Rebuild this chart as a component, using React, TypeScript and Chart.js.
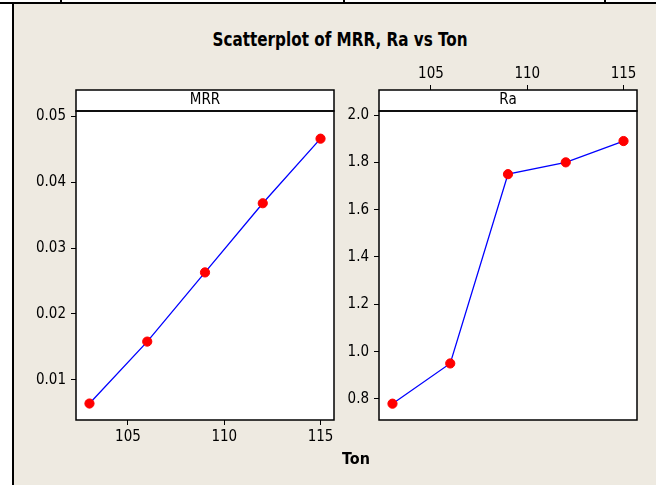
import React, { useEffect, useRef } from "react";
import { Chart, registerables } from "chart.js";

Chart.register(...registerables);

// ---- data ----
const TON = [103, 106, 109, 112, 115];
const MRR = [0.0064, 0.0158, 0.0263, 0.0368, 0.0466];
const RA = [0.78, 0.95, 1.75, 1.8, 1.89];

const TON_TICKS = [105, 110, 115];
const MRR_TICKS = [0.01, 0.02, 0.03, 0.04, 0.05];
const RA_TICKS = [0.8, 1.0, 1.2, 1.4, 1.6, 1.8, 2.0];

const TITLE = "Scatterplot of MRR, Ra vs Ton";
const X_LABEL = "Ton";

const FONT = "'DejaVu Sans Condensed', 'Liberation Sans Narrow', 'DejaVu Sans', sans-serif";
const BG = "#EEEAE1";
const TICK_SIZE = 15;

const panelPlugin = (label: string) => ({
  id: "panel_" + label,
  beforeDraw(chart: any) {
    const { ctx, chartArea: a } = chart;
    ctx.save();
    ctx.fillStyle = "#fff";
    ctx.fillRect(a.left, a.top, a.right - a.left, a.bottom - a.top);
    ctx.restore();
  },
  afterDraw(chart: any) {
    const { ctx, chartArea: a } = chart;
    const sh = 21;
    ctx.save();
    ctx.fillStyle = "#fff";
    ctx.fillRect(a.left, a.top - sh, a.right - a.left, sh);
    ctx.strokeStyle = "#000";
    ctx.lineWidth = 1.5;
    ctx.strokeRect(a.left, a.top - sh, a.right - a.left, sh);
    ctx.strokeRect(a.left, a.top, a.right - a.left, a.bottom - a.top);
    ctx.fillStyle = "#000";
    ctx.font = `${TICK_SIZE}px ${FONT}`;
    ctx.textAlign = "center";
    ctx.textBaseline = "middle";
    ctx.fillText(label, (a.left + a.right) / 2, a.top - sh / 2);
    ctx.restore();
  },
});

const gridOpts = (len: number) => ({
  display: true,
  drawOnChartArea: false,
  drawTicks: true,
  tickLength: len,
  color: "#000",
  lineWidth: 1,
});

function makeConfig(
  label: string,
  values: number[],
  yTicks: number[],
  yMin: number,
  yMax: number,
  yDigits: number,
  xPos: "top" | "bottom",
  yWidth: number,
  padding: any
): any {
  return {
    type: "scatter",
    data: {
      datasets: [
        {
          label,
          data: TON.map((t, i) => ({ x: t, y: values[i] })),
          showLine: true,
          borderColor: "#0000FF",
          borderWidth: 1.3,
          pointBackgroundColor: "#FF0000",
          pointBorderColor: "#FF0000",
          pointBorderWidth: 1,
          pointRadius: 4.6,
          tension: 0,
        },
      ],
    },
    options: {
      responsive: false,
      animation: false,
      events: [],
      layout: { padding },
      plugins: { legend: { display: false }, tooltip: { enabled: false }, title: { display: false } },
      scales: {
        x: {
          type: "linear",
          position: xPos,
          min: 102.3,
          max: 115.7,
          afterBuildTicks: (s: any) => {
            s.ticks = TON_TICKS.map((v) => ({ value: v }));
          },
          afterFit: (s: any) => {
            s.height = xPos === "top" ? 51 : 40;
          },
          grid: gridOpts(xPos === "top" ? 26 : 5),
          border: { display: false },
          ticks: {
            color: "#000",
            font: { family: FONT, size: TICK_SIZE },
            padding: xPos === "top" ? 2 : 3,
            maxRotation: 0,
            autoSkip: false,
            callback: (v: number) => String(v),
          },
        },
        y: {
          type: "linear",
          min: yMin,
          max: yMax,
          afterBuildTicks: (s: any) => {
            s.ticks = yTicks.map((v) => ({ value: v }));
          },
          afterFit: (s: any) => {
            s.width = yWidth;
          },
          grid: gridOpts(5),
          border: { display: false },
          ticks: {
            color: "#000",
            font: { family: FONT, size: TICK_SIZE },
            padding: 5,
            autoSkip: false,
            callback: (v: number) => Number(v).toFixed(yDigits),
          },
        },
      },
    },
    plugins: [panelPlugin(label)],
  };
}

export default function App() {
  const leftRef = useRef<HTMLCanvasElement>(null);
  const rightRef = useRef<HTMLCanvasElement>(null);

  useEffect(() => {
    const c1 = new Chart(
      leftRef.current!,
      makeConfig("MRR", MRR, MRR_TICKS, 0.0039, 0.0508, 2, "bottom", 76, { top: 51, right: 11, bottom: 0, left: 0 })
    );
    const c2 = new Chart(
      rightRef.current!,
      makeConfig("Ra", RA, RA_TICKS, 0.711, 2.017, 1, "top", 34, { top: 0, right: 19, bottom: 40, left: 0 })
    );
    return () => {
      c1.destroy();
      c2.destroy();
    };
  }, []);

  const abs = (s: any) => ({ position: "absolute" as const, ...s });

  return (
    <div style={abs({ left: 0, top: 0, width: 656, height: 485, background: "#fff", overflow: "hidden" })}>
      <div style={abs({ left: 13, top: 4, width: 643, height: 481, background: BG })} />
      <div style={abs({ left: 0, top: 2, width: 656, height: 2, background: "#000" })} />
      <div style={abs({ left: 12, top: 2, width: 2, height: 483, background: "#000" })} />
      <div style={abs({ left: 60, top: 0, width: 2, height: 3, background: "#000" })} />
      <div style={abs({ left: 343, top: 0, width: 2, height: 3, background: "#000" })} />
      <div style={abs({ left: 604, top: 0, width: 2, height: 3, background: "#000" })} />
      <div
        style={abs({
          left: 0,
          width: 680,
          top: 28,
          textAlign: "center",
          font: `bold 19px ${FONT}`,
          color: "#000",
          whiteSpace: "nowrap",
          transform: "scaleX(0.89)",
          transformOrigin: "340px 0",
        })}
      >
        {TITLE}
      </div>
      <canvas ref={leftRef} width={345} height={400} style={abs({ left: 0, top: 60, width: 345, height: 400 })} />
      <canvas ref={rightRef} width={311} height={400} style={abs({ left: 345, top: 60, width: 311, height: 400 })} />
      <div
        style={abs({
          left: 256,
          width: 200,
          top: 449,
          textAlign: "center",
          font: `bold 16px ${FONT}`,
          color: "#000",
        })}
      >
        {X_LABEL}
      </div>
    </div>
  );
}
